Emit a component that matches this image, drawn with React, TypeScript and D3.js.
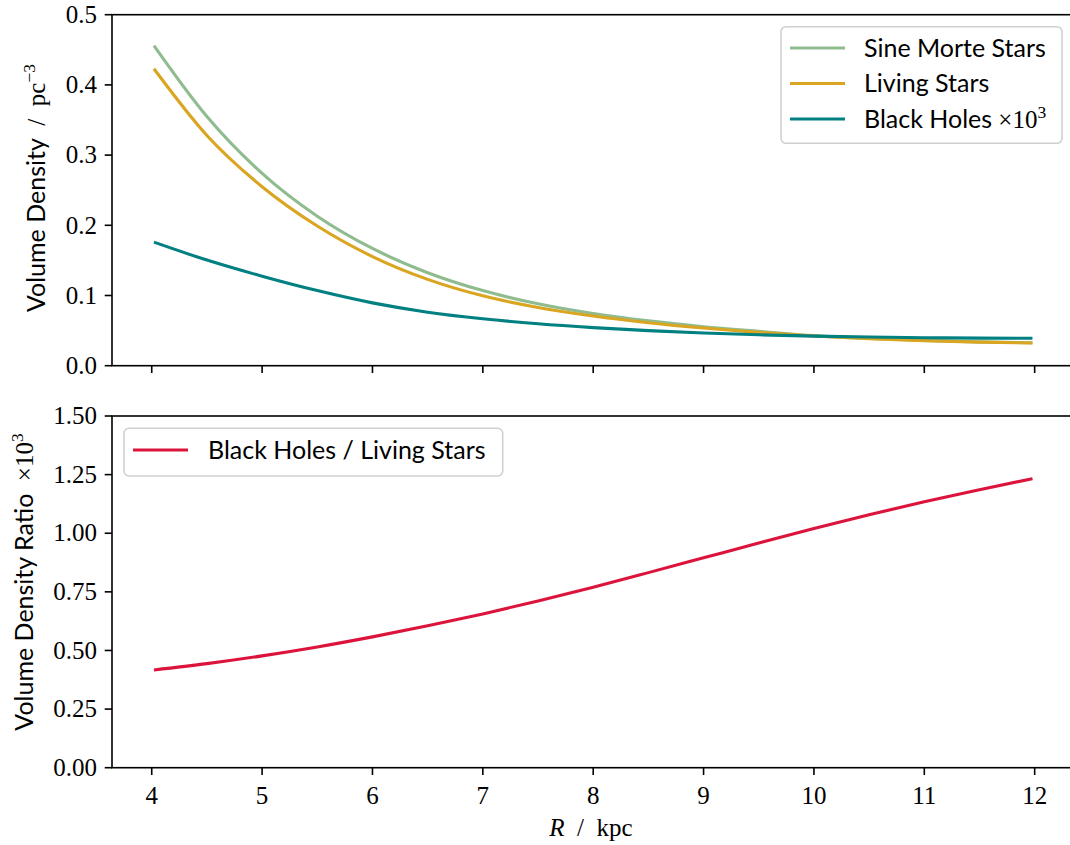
import React from "react";
import * as d3 from "d3";

// ---- data ----
const radius = [4.02, 4.5, 5.0, 5.5, 6.0, 6.5, 7.0, 7.5, 8.0, 8.5, 9.0, 9.5, 10.0, 10.5, 11.0, 11.5, 11.98];
const sineMorte = [0.456, 0.355, 0.274, 0.213, 0.167, 0.1325, 0.107, 0.0882, 0.0743, 0.0638, 0.0556, 0.049, 0.0428, 0.0387, 0.0358, 0.0339, 0.0327];
const living = [0.423, 0.328, 0.255, 0.199, 0.1555, 0.123, 0.0995, 0.083, 0.0708, 0.0612, 0.0536, 0.0475, 0.0424, 0.0384, 0.0355, 0.0336, 0.0324];
const blackHoles = [0.176, 0.1505, 0.1275, 0.107, 0.0895, 0.0762, 0.0668, 0.0597, 0.0543, 0.05, 0.0466, 0.044, 0.0421, 0.0408, 0.0399, 0.0393, 0.039];
const ratio = [0.417, 0.444, 0.477, 0.515, 0.558, 0.605, 0.656, 0.711, 0.77, 0.832, 0.895, 0.958, 1.02, 1.079, 1.134, 1.185, 1.233];

const xTicks = [4, 5, 6, 7, 8, 9, 10, 11, 12];
const topYTicks = [0.0, 0.1, 0.2, 0.3, 0.4, 0.5];
const bottomYTicks = [0.0, 0.25, 0.5, 0.75, 1.0, 1.25, 1.5];

const topSeries = [
  { name: "Sine Morte Stars", values: sineMorte, color: "#8fbc8f" },
  { name: "Living Stars", values: living, color: "#daa520" },
  { name: "Black Holes", values: blackHoles, color: "#008080" },
];

const SERIF = "'Liberation Serif', 'DejaVu Serif', serif";
const SANS = "Lato, 'Noto Sans', sans-serif";
const FS = 25;
const SFS = 25;

export default function App() {
  const left = 112;
  const right = 1074.4;
  const top1 = 14.7, bot1 = 365.7;
  const top2 = 416, bot2 = 767.7;

  const x = d3.scaleLinear().domain([3.64, 12.36]).range([left, right]);
  const y1 = d3.scaleLinear().domain([0, 0.5]).range([bot1, top1]);
  const y2 = d3.scaleLinear().domain([0, 1.5]).range([bot2, top2]);

  const mkLine = (ys: d3.ScaleLinear<number, number>) =>
    d3.line<[number, number]>().x((d) => x(d[0])).y((d) => ys(d[1])).curve(d3.curveMonotoneX);

  const l1 = mkLine(y1);
  const l2 = mkLine(y2);
  const tickLen = 7.3;
  const axisColor = "#000";
  const sw = 1.6;

  const frame = (t: number, b: number) => (
    <rect x={left} y={t} width={right - left} height={b - t} fill="none" stroke={axisColor} strokeWidth={sw} />
  );

  const xTickMarks = (b: number, labels: boolean) =>
    xTicks.map((v) => (
      <g key={v}>
        <line x1={x(v)} x2={x(v)} y1={b} y2={b + tickLen} stroke={axisColor} strokeWidth={sw} />
        {labels && (
          <text x={x(v)} y={b + 36.5} textAnchor="middle" fontFamily={SERIF} fontSize={FS}>
            {String(v)}
          </text>
        )}
      </g>
    ));

  const yTickMarks = (ys: d3.ScaleLinear<number, number>, ticks: number[], fmt: (n: number) => string) =>
    ticks.map((v) => (
      <g key={v}>
        <line x1={left - tickLen} x2={left} y1={ys(v)} y2={ys(v)} stroke={axisColor} strokeWidth={sw} />
        <text x={left - 15} y={ys(v)} dy="0.33em" textAnchor="end" fontFamily={SERIF} fontSize={FS}>
          {fmt(v)}
        </text>
      </g>
    ));

  const f1 = d3.format(".1f");
  const f2 = d3.format(".2f");

  const lg1 = { x: 781, y: 26.7, w: 281, h: 116.6 };
  const lg2 = { x: 124, y: 428.3, w: 378.7, h: 47.7 };

  return (
    <div style={{ position: "absolute", left: 0, top: 0 }}>
      <svg width={1070} height={845} style={{ display: "block", background: "#fff" }}>
        <rect x={0} y={0} width={1070} height={845} fill="#fff" />

        {/* top panel */}
        <g>
          {topSeries.map((s) => (
            <path
              key={s.name}
              d={l1(radius.map((r, i) => [r, s.values[i]]) as [number, number][]) || ""}
              fill="none"
              stroke={s.color}
              strokeWidth={3.1}
            />
          ))}
          {frame(top1, bot1)}
          {xTickMarks(bot1, false)}
          {yTickMarks(y1, topYTicks, f1)}

          <rect x={lg1.x} y={lg1.y} width={lg1.w} height={lg1.h} rx={5} fill="#fff" fillOpacity={0.8} stroke="#d0d0d0" strokeWidth={1.6} />
          {topSeries.map((s, i) => {
            const cy = 48 + i * 35.5;
            return (
              <g key={s.name}>
                <line x1={lg1.x + 9} x2={lg1.x + 64} y1={cy} y2={cy} stroke={s.color} strokeWidth={3.1} />
                <text x={lg1.x + 83} y={cy + 8.5} fontFamily={SANS} fontSize={SFS}>
                  {s.name}
                  {i === 2 && (
                    <>
                      <tspan fontFamily={SERIF} fontSize={FS}> ×10</tspan>
                      <tspan fontFamily={SERIF} fontSize={17.5} dy={-10}>3</tspan>
                    </>
                  )}
                </text>
              </g>
            );
          })}

          <g transform={`translate(45, 188) rotate(-90)`}>
            <text textAnchor="middle" fontSize={SFS} fontFamily={SANS}>
              Volume Density
              <tspan fontFamily={SERIF} fontSize={FS}>{"\u2002/\u2002pc"}</tspan>
              <tspan fontFamily={SERIF} fontSize={17.5} dy={-10}>−3</tspan>
            </text>
          </g>
        </g>

        {/* bottom panel */}
        <g>
          <path
            d={l2(radius.map((r, i) => [r, ratio[i]]) as [number, number][]) || ""}
            fill="none"
            stroke="#dc143c"
            strokeWidth={3.1}
          />
          {frame(top2, bot2)}
          {xTickMarks(bot2, true)}
          {yTickMarks(y2, bottomYTicks, f2)}

          <rect x={lg2.x} y={lg2.y} width={lg2.w} height={lg2.h} rx={5} fill="#fff" fillOpacity={0.8} stroke="#d0d0d0" strokeWidth={1.6} />
          <line x1={lg2.x + 9} x2={lg2.x + 64} y1={450} y2={450} stroke="#dc143c" strokeWidth={3.1} />
          <text x={lg2.x + 84} y={458.5} fontFamily={SANS} fontSize={SFS}>
            Black Holes / Living Stars
          </text>

          <g transform={`translate(33, 582) rotate(-90)`}>
            <text textAnchor="middle" fontSize={SFS} fontFamily={SANS}>
              Volume Density Ratio
              <tspan fontFamily={SERIF} fontSize={FS}>{"\u2002×10"}</tspan>
              <tspan fontFamily={SERIF} fontSize={17.5} dy={-10}>3</tspan>
            </text>
          </g>

          <text x={591} y={836} textAnchor="middle" fontFamily={SERIF} fontSize={FS}>
            <tspan fontStyle="italic">R</tspan>
            {"\u2002/\u2002kpc"}
          </text>
        </g>
      </svg>
    </div>
  );
}
